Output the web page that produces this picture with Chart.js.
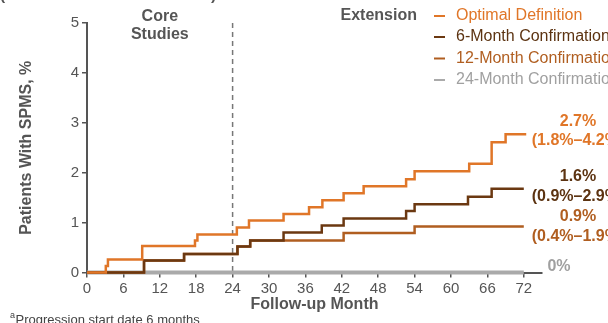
<!DOCTYPE html>
<html>
<head>
<meta charset="utf-8">
<style>
html,body{margin:0;padding:0;background:#fff;}
canvas{display:block;}
</style>
<script src="https://cdn.jsdelivr.net/npm/chart.js@4"></script>
</head>
<body>
<canvas id="c" width="608" height="323"></canvas>
<script>
// ---- data ----
const xTicks = [0, 6, 12, 18, 24, 30, 36, 42, 48, 54, 60, 66, 72];
const yTicks = [0, 1, 2, 3, 4, 5];

const seriesNames = ['Optimal Definition', '6-Month Confirmation', '12-Month Confirmation', '24-Month Confirmation'];

const optimalMonths = [0, 3.1, 3.45, 9.1, 17.8, 18.2, 24.7, 26.7, 32.4, 36.6, 38.8, 42.3, 45.6, 52.6, 54.0, 63.0, 66.7, 69.0, 72.4];
const optimalPct    = [0, 0.13, 0.26, 0.53, 0.64, 0.76, 0.90, 1.04, 1.17, 1.31, 1.45, 1.59, 1.73, 1.87, 2.03, 2.18, 2.61, 2.77, 2.77];

const m6Months = [0, 9.4, 16.0, 24.8, 26.9, 32.4, 38.7, 42.3, 52.6, 54.0, 62.8, 66.7, 72.0];
const m6Pct    = [0, 0.24, 0.37, 0.52, 0.64, 0.80, 0.94, 1.08, 1.23, 1.37, 1.52, 1.68, 1.68];

const m12Months = [0, 9.4, 16.0, 24.8, 26.9, 42.3, 54.0, 72.0];
const m12Pct    = [0, 0.24, 0.37, 0.52, 0.64, 0.79, 0.92, 0.92];

const m24Months = [0, 72];
const m24Pct    = [0, 0];

const endMain = ['2.7%', '1.6%', '0.9%', '0%'];
const endCI   = ['(1.8%\u20134.2%)', '(0.9%\u20132.9%)', '(0.4%\u20131.9%)', ''];

const colors = ['#E07628', '#6B3811', '#B05E20', '#AAAAAA'];
const textColors = ['#E07628', '#5C3311', '#B05E20', '#A0A0A0'];

function pts(xs, ys) { return xs.map((x, i) => ({ x: x, y: ys[i] })); }

const FONT = '"Liberation Sans", Arial, sans-serif';
const AXIS = '#555555';

const annot = {
  id: 'annot',
  beforeDatasetsDraw(chart) {
    const ctx = chart.ctx, xs = chart.scales.x, a = chart.chartArea;
    const px = xs.getPixelForValue(24);
    ctx.save();
    ctx.strokeStyle = '#777';
    ctx.lineWidth = 1.5;
    ctx.setLineDash([5, 4]);
    ctx.beginPath();
    ctx.moveTo(px, a.top);
    ctx.lineTo(px, a.bottom);
    ctx.stroke();
    ctx.restore();
  },
  afterDraw(chart) {
    const ctx = chart.ctx, xs = chart.scales.x, ys = chart.scales.y, a = chart.chartArea;
    ctx.save();
    ctx.textBaseline = 'middle';

    // cut-off heading at the very top
    ctx.fillStyle = AXIS;
    ctx.font = 'bold 15.5px ' + FONT;
    ctx.textAlign = 'left';
    ctx.textBaseline = 'alphabetic';
    ctx.fillText('(Core and Extension Studies)', 0, 0);
    ctx.textBaseline = 'middle';

    // period labels
    ctx.font = 'bold 16px ' + FONT;
    ctx.fillStyle = AXIS;
    ctx.textAlign = 'center';
    const cx = xs.getPixelForValue(12);
    ctx.fillText('Core', cx, 16.5);
    ctx.fillText('Studies', cx, 35);
    ctx.textAlign = 'right';
    ctx.fillText('Extension', 417, 16);

    // legend
    const rows = [16, 37, 58.5, 80];
    ctx.font = '16px ' + FONT;
    ctx.textAlign = 'left';
    for (let i = 0; i < seriesNames.length; i++) {
      ctx.strokeStyle = colors[i];
      ctx.lineWidth = 2;
      ctx.beginPath();
      ctx.moveTo(434, rows[i]);
      ctx.lineTo(445, rows[i]);
      ctx.stroke();
      ctx.fillStyle = textColors[i];
      ctx.fillText(seriesNames[i], 456, rows[i]);
    }

    // end-of-line labels
    ctx.font = 'bold 16px ' + FONT;
    ctx.textAlign = 'center';
    const mainY = [121.5, 177, 217, 267];
    const ciY = [141, 197, 237, 0];
    const lx = [578, 578, 578, 559];
    for (let i = 0; i < endMain.length; i++) {
      ctx.fillStyle = textColors[i];
      ctx.fillText(endMain[i], lx[i], mainY[i]);
      if (endCI[i]) ctx.fillText(endCI[i], lx[i], ciY[i]);
    }

    // axis titles
    ctx.fillStyle = AXIS;
    ctx.font = 'bold 16px ' + FONT;
    ctx.textAlign = 'center';
    ctx.fillText('Follow-up Month', (a.left + a.right) / 2, 305);
    ctx.save();
    ctx.translate(27, (a.top + a.bottom) / 2);
    ctx.rotate(-Math.PI / 2);
    ctx.fillText('Patients With SPMS, %', 0, 0);
    ctx.restore();

    // footnote
    ctx.textAlign = 'left';
    ctx.textBaseline = 'alphabetic';
    ctx.fillStyle = '#444';
    ctx.font = '9px ' + FONT;
    ctx.fillText('a', 10, 318);
    ctx.font = '13px ' + FONT;
    ctx.fillText('Progression start date 6 months', 15.5, 324);
    ctx.restore();
  }
};

const lineDs = (label, data, color, width) => ({
  label: label,
  data: data,
  borderColor: color,
  backgroundColor: color,
  borderWidth: width,
  stepped: true,
  pointRadius: 0,
  fill: false,
  clip: 4
});

new Chart(document.getElementById('c'), {
  type: 'line',
  data: {
    datasets: [
      lineDs(seriesNames[0], pts(optimalMonths, optimalPct), colors[0], 2.5),
      lineDs(seriesNames[1], pts(m6Months, m6Pct), colors[1], 2.5),
      lineDs(seriesNames[2], pts(m12Months, m12Pct), colors[2], 2.5),
      lineDs(seriesNames[3], pts(m24Months, m24Pct), colors[3], 4)
    ]
  },
  options: {
    responsive: false,
    animation: false,
    devicePixelRatio: 1,
    layout: { padding: { top: 23, right: 66, left: 0, bottom: 0 } },
    plugins: { legend: { display: false }, title: { display: false }, tooltip: { enabled: false } },
    scales: {
      x: {
        type: 'linear',
        min: 0,
        max: 75,
        afterBuildTicks: (s) => { s.ticks = xTicks.map(v => ({ value: v })); },
        afterFit: (s) => { s.height = 50.5; },
        ticks: { font: { family: FONT, size: 15 }, color: AXIS, padding: 2, maxRotation: 0, autoSkip: false },
        grid: { display: true, drawOnChartArea: false, drawTicks: true, tickLength: 5, color: AXIS, lineWidth: 1.5 },
        border: { display: true, color: AXIS, width: 2 }
      },
      y: {
        type: 'linear',
        min: 0,
        max: 5,
        afterBuildTicks: (s) => { s.ticks = yTicks.map(v => ({ value: v })); },
        afterFit: (s) => { s.width = 87; },
        ticks: { font: { family: FONT, size: 15 }, color: AXIS, padding: 3 },
        grid: { display: true, drawOnChartArea: false, drawTicks: true, tickLength: 5, color: AXIS, lineWidth: 1.5 },
        border: { display: true, color: AXIS, width: 2 }
      }
    }
  },
  plugins: [annot]
});
</script>
</body>
</html>
